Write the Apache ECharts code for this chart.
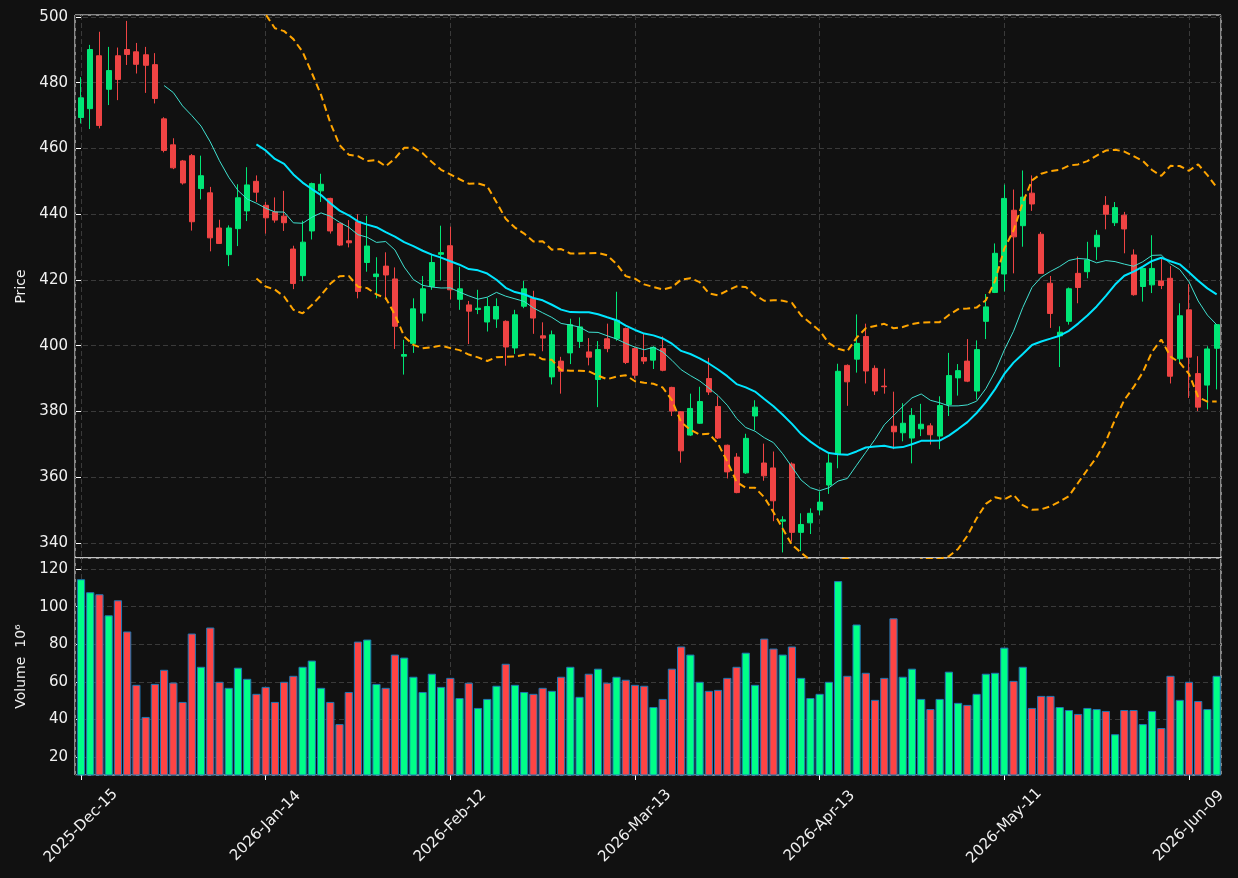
<!DOCTYPE html>
<html>
<head>
<meta charset="utf-8">
<script src="https://cdn.jsdelivr.net/npm/echarts@6/dist/echarts.min.js"></script>
<style>
  html, body { margin: 0; background: #111111; }
  #chart { width: 1238px; height: 878px; }
</style>
</head>
<body>
<div id="chart"></div>
<script>
// tick labels, one every 20 trading days
const tickLabels = ['2025-Dec-15', '2026-Jan-14', '2026-Feb-12', '2026-Mar-13', '2026-Apr-13', '2026-May-11', '2026-Jun-09'];

const opens = [
  469.4, 472.1, 488.2, 478.0, 488.2, 490.1, 489.4, 488.5, 485.5, 469.0,
  461.1, 456.2, 457.8, 447.8, 446.5, 435.8, 427.7, 435.6, 441.0, 450.0,
  442.7, 440.7, 439.4, 429.4, 421.3, 434.9, 447.1, 444.8, 437.2, 431.9,
  437.7, 425.3, 421.0, 424.2, 420.3, 396.8, 400.7, 409.9, 418.0, 427.8,
  430.4, 414.1, 412.4, 411.0, 407.2, 408.1, 407.4, 399.3, 412.0, 414.4,
  403.0, 390.5, 395.3, 397.8, 401.3, 398.1, 389.7, 402.1, 402.1, 405.2,
  399.1, 396.4, 395.6, 399.1, 387.3, 379.9, 372.8, 376.4, 390.0, 381.5,
  369.7, 366.1, 361.3, 378.6, 364.3, 362.8, 346.6, 364.0, 343.2, 346.1,
  350.0, 357.6, 367.0, 394.0, 395.9, 402.8, 393.1, 387.7, 375.5, 373.5,
  371.9, 374.7, 375.6, 372.5, 382.1, 390.2, 395.3, 386.2, 407.4, 416.2,
  421.8, 441.2, 436.5, 446.4, 433.9, 419.0, 403.0, 407.4, 422.0, 422.5,
  430.1, 442.7, 437.4, 439.7, 427.6, 418.0, 418.5, 419.7, 420.5, 396.0,
  410.9, 391.5, 388.0, 399.2
];
const closes = [
  475.4, 490.1, 467.0, 483.7, 481.0, 488.6, 485.6, 485.3, 475.2, 459.4,
  454.1, 449.5, 437.7, 451.7, 432.8, 431.1, 435.8, 445.0, 448.9, 446.7,
  438.9, 438.2, 437.4, 418.9, 431.5, 449.3, 449.1, 434.9, 430.6, 431.3,
  416.5, 430.3, 421.8, 421.5, 405.9, 397.3, 411.2, 417.3, 425.3, 428.3,
  417.0, 417.3, 410.5, 411.4, 411.9, 411.9, 399.6, 409.4, 417.3, 408.4,
  402.3, 403.3, 392.2, 406.4, 405.7, 396.5, 398.8, 399.1, 407.7, 394.9,
  391.0, 395.3, 399.5, 392.5, 380.1, 368.0, 380.9, 383.0, 385.9, 371.9,
  361.6, 355.3, 371.8, 381.3, 360.4, 352.8, 347.0, 343.2, 345.6, 349.0,
  352.4, 364.3, 392.2, 389.0, 400.7, 392.3, 386.2, 387.5, 373.8, 376.4,
  378.8, 376.1, 372.9, 381.8, 390.9, 392.4, 389.2, 398.8, 411.8, 428.1,
  444.8, 433.1, 445.2, 443.1, 422.0, 409.8, 404.1, 417.3, 417.7, 426.1,
  433.6, 440.0, 442.0, 435.5, 415.5, 423.5, 423.5, 418.3, 390.7, 409.1,
  396.5, 381.3, 399.0, 406.4
];
const lows = [
  467.6, 465.9, 466.1, 473.2, 474.7, 485.4, 482.8, 476.9, 473.7, 458.8,
  453.7, 449.0, 435.0, 444.5, 428.7, 431.0, 424.2, 430.3, 437.9, 443.7,
  434.1, 437.4, 434.9, 417.2, 419.6, 432.3, 443.7, 434.1, 430.3, 429.9,
  414.4, 422.5, 414.4, 413.9, 399.0, 391.2, 397.8, 407.4, 417.0, 419.8,
  414.1, 410.9, 400.5, 409.6, 404.3, 405.4, 393.9, 397.5, 411.4, 403.6,
  398.3, 388.2, 385.4, 394.4, 399.3, 394.0, 381.3, 398.0, 401.5, 394.4,
  390.0, 394.4, 392.9, 392.2, 378.6, 364.4, 372.5, 376.2, 385.0, 371.6,
  359.6, 355.1, 361.0, 374.3, 358.9, 346.6, 337.1, 340.4, 337.5, 342.7,
  348.5, 354.9, 362.7, 381.7, 391.8, 388.5, 385.0, 385.4, 368.5, 370.9,
  364.2, 372.5, 369.9, 368.5, 378.6, 384.8, 388.9, 383.6, 402.0, 416.0,
  416.5, 422.0, 430.1, 441.0, 421.8, 405.4, 393.5, 406.4, 412.9, 420.5,
  426.1, 435.4, 436.4, 428.1, 415.2, 413.4, 416.0, 417.2, 388.5, 394.7,
  384.1, 380.1, 380.6, 386.7
];
const highs = [
  481.7, 491.5, 495.5, 490.9, 490.7, 498.8, 492.1, 490.9, 489.0, 469.5,
  463.1, 456.5, 458.3, 457.8, 448.3, 438.3, 436.6, 449.1, 454.3, 451.8,
  443.7, 445.1, 447.1, 430.4, 438.0, 449.6, 452.3, 445.0, 437.4, 438.2,
  440.0, 439.5, 426.9, 428.4, 423.8, 401.8, 414.4, 421.2, 427.8, 436.5,
  436.2, 424.0, 413.6, 417.0, 414.6, 414.4, 407.7, 410.9, 419.7, 416.7,
  407.1, 404.6, 396.6, 408.2, 408.6, 402.3, 401.4, 406.7, 416.4, 405.5,
  399.5, 403.8, 399.8, 402.8, 387.5, 380.1, 385.4, 387.5, 396.3, 384.6,
  369.9, 367.3, 373.2, 383.4, 370.2, 367.8, 348.1, 364.5, 349.0, 350.5,
  355.6, 367.0, 394.5, 394.3, 409.5, 406.7, 394.0, 393.0, 386.0, 382.5,
  381.0, 382.3, 376.4, 384.6, 397.8, 394.4, 402.0, 401.6, 415.7, 431.1,
  449.0, 447.5, 453.3, 451.8, 434.6, 421.2, 405.9, 417.7, 427.1, 431.6,
  435.2, 445.5, 443.7, 440.7, 429.3, 423.7, 433.6, 426.6, 424.2, 412.9,
  418.7, 396.8, 399.8, 406.6
];
// volume in millions
const volumes = [
  114.6, 107.7, 106.6, 95.4, 103.4, 86.8, 58.4, 41.3, 58.9, 66.4,
  59.6, 49.3, 85.7, 68.0, 88.9, 60.0, 56.8, 67.5, 61.6, 53.6,
  57.3, 49.3, 60.0, 63.2, 68.0, 71.3, 56.8, 49.3, 37.5, 54.6,
  81.4, 82.5, 58.9, 56.8, 74.5, 72.9, 62.7, 54.6, 64.3, 57.3,
  62.1, 51.4, 59.5, 46.1, 50.9, 57.9, 69.6, 58.4, 54.6, 53.6,
  56.8, 55.2, 62.7, 68.0, 52.0, 64.3, 67.0, 59.5, 62.7, 61.1,
  58.4, 57.9, 46.6, 50.9, 67.0, 78.8, 74.5, 60.0, 55.2, 55.7,
  62.1, 68.0, 75.5, 58.4, 83.0, 77.7, 74.5, 78.8, 62.1, 51.4,
  53.6, 60.0, 113.6, 63.2, 90.5, 64.8, 50.4, 62.1, 93.8, 62.7,
  67.0, 50.9, 45.5, 50.9, 65.4, 48.8, 47.7, 53.6, 64.3, 64.8,
  78.2, 60.5, 68.0, 46.1, 52.5, 52.5, 46.6, 45.0, 42.9, 46.1,
  45.5, 44.5, 32.1, 45.0, 45.0, 37.5, 44.5, 35.4, 63.2, 50.4,
  60.0, 49.8, 45.5, 63.2
];

const UP = '#00e676', DOWN = '#ef4444';
const VOL_UP = '#00ff88', VOL_DOWN = '#ff4444';
const TEXT = '#f0f0f0';
const GRIDLINE = { show: true, lineStyle: { color: '#3a3a3a', type: [5, 3], width: 1 } };

function movingAverage(src, n) {
  const out = [];
  for (let i = n - 1; i < src.length; i++) {
    let s = 0;
    for (let k = i - n + 1; k <= i; k++) s += src[k];
    out.push([i, s / n]);
  }
  return out;
}

function bollinger(src, n, mult) {
  const upper = [], lower = [];
  for (let i = n - 1; i < src.length; i++) {
    let s = 0;
    for (let k = i - n + 1; k <= i; k++) s += src[k];
    const m = s / n;
    let v = 0;
    for (let k = i - n + 1; k <= i; k++) v += (src[k] - m) * (src[k] - m);
    const sd = Math.sqrt(v / (n - 1));
    upper.push([i, m + mult * sd]);
    lower.push([i, m - mult * sd]);
  }
  return { upper, lower };
}

const candleData = opens.map((o, i) => [i, o, closes[i], lows[i], highs[i]]);
const volumeData = volumes.map((v, i) => ({
  value: [i, v],
  itemStyle: { color: closes[i] >= opens[i] ? VOL_UP : VOL_DOWN }
}));
const ma10 = movingAverage(closes, 10);
const ma20 = movingAverage(closes, 20);
const bands = bollinger(closes, 20, 2);

const X_MIN = -0.65, X_MAX = 123.47;

function dateLabel(v) {
  const k = Math.round(v / 20);
  if (Math.abs(v - k * 20) > 1e-6 || k < 0 || k >= tickLabels.length) return '';
  return tickLabels[k];
}

const chart = echarts.init(document.getElementById('chart'));
chart.setOption({
  backgroundColor: '#111111',
  animation: false,
  textStyle: { fontFamily: 'DejaVu Sans' },
  grid: [
    { left: 75, right: 17, top: 15, height: 543, show: true, borderColor: '#ffffff', borderWidth: 1, backgroundColor: '#111111' },
    { left: 75, right: 17, top: 558, height: 217, show: true, borderColor: '#ffffff', borderWidth: 1, backgroundColor: '#111111' }
  ],
  xAxis: [
    {
      type: 'value', gridIndex: 0, min: X_MIN, max: X_MAX,
      axisLine: { show: false }, axisTick: { show: false }, axisLabel: { show: false },
      splitLine: GRIDLINE
    },
    {
      type: 'value', gridIndex: 1, min: X_MIN, max: X_MAX,
      axisLine: { show: false },
      axisTick: { show: true, length: 5, lineStyle: { color: '#ffffff' } },
      axisLabel: {
        color: TEXT, fontSize: 15, rotate: 45, margin: 51,
        align: 'center', verticalAlign: 'middle',
        showMinLabel: false, showMaxLabel: false,
        formatter: dateLabel
      },
      splitLine: GRIDLINE
    }
  ],
  yAxis: [
    {
      type: 'value', gridIndex: 0, min: 335.4, max: 500.6, splitNumber: 8,
      name: 'Price', nameLocation: 'middle', nameGap: 46,
      nameTextStyle: { color: TEXT, fontSize: 14 },
      axisLine: { show: false },
      axisTick: { show: true, length: 5, lineStyle: { color: '#ffffff' } },
      axisLabel: { color: TEXT, fontSize: 15, margin: 7, showMinLabel: false, showMaxLabel: false, formatter: v => Math.round(v) },
      splitLine: GRIDLINE
    },
    {
      type: 'value', gridIndex: 1, min: 10.4, max: 125.9, splitNumber: 6,
      name: 'Volume  10⁶', nameLocation: 'middle', nameGap: 47,
      nameTextStyle: { color: TEXT, fontSize: 14 },
      axisLine: { show: false },
      axisTick: { show: true, length: 5, lineStyle: { color: '#ffffff' } },
      axisLabel: { color: TEXT, fontSize: 15, margin: 7, showMinLabel: false, showMaxLabel: false, formatter: v => Math.round(v) },
      splitLine: GRIDLINE
    }
  ],
  series: [
    {
      name: 'OHLC', type: 'candlestick', xAxisIndex: 0, yAxisIndex: 0,
      data: candleData, encode: { x: 0, y: [1, 2, 3, 4] },
      barWidth: 5.5,
      itemStyle: { color: UP, color0: DOWN, borderColor: UP, borderColor0: DOWN, borderWidth: 1 }
    },
    {
      name: 'MA10', type: 'line', xAxisIndex: 0, yAxisIndex: 0, data: ma10,
      symbol: 'none', lineStyle: { color: '#40e0d0', width: 1 }, z: 3
    },
    {
      name: 'MA20', type: 'line', xAxisIndex: 0, yAxisIndex: 0, data: ma20,
      symbol: 'none', lineStyle: { color: '#00e5ff', width: 2 }, z: 3
    },
    {
      name: 'BB upper', type: 'line', xAxisIndex: 0, yAxisIndex: 0, data: bands.upper,
      symbol: 'none', lineStyle: { color: '#ffa500', width: 2, type: [7, 4] }, z: 3
    },
    {
      name: 'BB lower', type: 'line', xAxisIndex: 0, yAxisIndex: 0, data: bands.lower,
      symbol: 'none', lineStyle: { color: '#ffa500', width: 2, type: [7, 4] }, z: 3
    },
    {
      name: 'Volume', type: 'bar', xAxisIndex: 1, yAxisIndex: 1, data: volumeData,
      barWidth: 8.2,
      itemStyle: { borderColor: '#1f77b4', borderWidth: 1 }
    }
  ]
});
</script>
</body>
</html>
